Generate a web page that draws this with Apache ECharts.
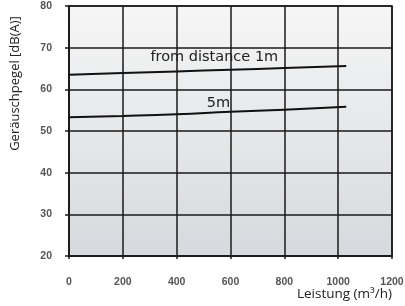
<!DOCTYPE html>
<html>
<head>
<meta charset="utf-8">
<script src="https://cdn.jsdelivr.net/npm/echarts@6/dist/echarts.min.js"></script>
<style>
  html, body { margin: 0; padding: 0; background: #fff; }
  #chart { width: 405px; height: 306px; }
</style>
</head>
<body>
<div id="chart"></div>
<script>
// flow rate (m3/h) and noise level (dB(A))
const flow = [0, 200, 400, 600, 800, 1030];
const level1m = [63.5, 63.9, 64.3, 64.7, 65.1, 65.6];
const level5m = [53.3, 53.6, 54.0, 54.6, 55.1, 55.8];
const xTicks = [0, 200, 400, 600, 800, 1000, 1200];
const yTicks = [20, 30, 40, 50, 60, 70, 80];
// annotation anchors [x, y, text]
const notes = [
    [540, 67.6, 'from distance 1m'],
    [555, 56.6, '5m']
];

const pairs = (xs, ys) => xs.map((x, i) => [x, ys[i]]);

const chart = echarts.init(document.getElementById('chart'));

const lineStyle = {color: '#111', width: 2};
const gridLine = {show: true, lineStyle: {color: '#1a1a1a', width: 1.5}};
const tickLabel = {color: '#555', fontFamily: 'Liberation Sans', fontWeight: 'bold', fontSize: 10.5};
const noteLabel = {show: true, color: '#222', fontFamily: 'DejaVu Sans', fontSize: 14.5, position: 'inside'};

chart.setOption({
    animation: false,
    grid: {
        left: 69, right: 13, top: 6, bottom: 50,
        outerBoundsMode: 'none',
        containLabel: false,
        show: true,
        borderColor: '#1a1a1a',
        borderWidth: 1.5,
        backgroundColor: new echarts.graphic.LinearGradient(0, 0, 0, 1, [
            {offset: 0, color: '#f6f6f6'},
            {offset: 1, color: '#d6d9dd'}
        ])
    },
    xAxis: {
        type: 'value',
        min: xTicks[0], max: xTicks[xTicks.length - 1], interval: 200,
        name: 'Leistung (m³/h)',
        nameLocation: 'end',
        nameGap: 0,
        nameMoveOverlap: false,
        nameTextStyle: {
            color: '#222', fontFamily: 'Open Sans', fontSize: 13.5,
            align: 'right', verticalAlign: 'top', padding: [31, 0, 0, 0]
        },
        axisLine: {show: true, lineStyle: {color: '#1a1a1a', width: 1.5}},
        axisTick: {show: true, length: 3, lineStyle: {color: '#1a1a1a', width: 1.5}},
        axisLabel: Object.assign({margin: 21, formatter: v => String(v)}, tickLabel),
        splitLine: gridLine
    },
    yAxis: {
        type: 'value',
        min: yTicks[0], max: yTicks[yTicks.length - 1], interval: 10,
        name: 'Geräuschpegel [dB(A)]',
        nameLocation: 'middle',
        nameRotate: 90,
        nameGap: 47,
        nameMoveOverlap: false,
        nameTextStyle: {
            color: '#222', fontFamily: 'Open Sans', fontSize: 13,
            padding: [0, 0, 0, 95]
        },
        axisLine: {show: true, lineStyle: {color: '#1a1a1a', width: 1.5}},
        axisTick: {show: true, length: 4, lineStyle: {color: '#1a1a1a', width: 1.5}},
        axisLabel: Object.assign({margin: 17}, tickLabel),
        splitLine: gridLine
    },
    series: [
        {
            type: 'line',
            data: pairs(flow, level1m),
            smooth: true,
            symbol: 'none',
            lineStyle: lineStyle,
            markPoint: {
                symbolSize: 0,
                data: [{coord: [notes[0][0], notes[0][1]],
                    label: Object.assign({formatter: notes[0][2]}, noteLabel)}]
            }
        },
        {
            type: 'line',
            data: pairs(flow, level5m),
            smooth: true,
            symbol: 'none',
            lineStyle: lineStyle,
            markPoint: {
                symbolSize: 0,
                data: [{coord: [notes[1][0], notes[1][1]],
                    label: Object.assign({formatter: notes[1][2]}, noteLabel)}]
            }
        }
    ]
});
</script>
</body>
</html>
